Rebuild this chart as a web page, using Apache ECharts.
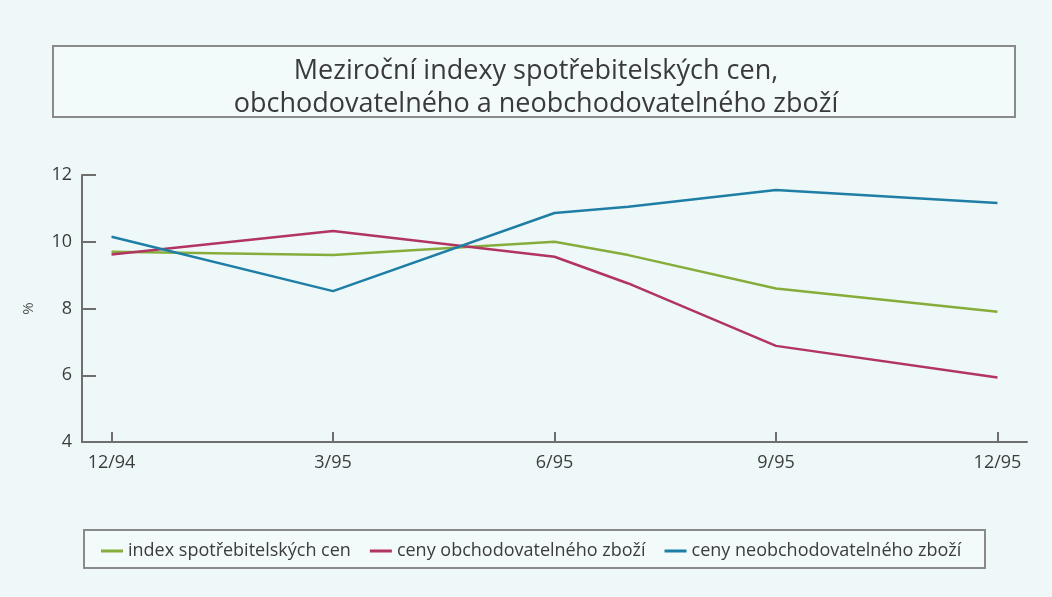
<!DOCTYPE html>
<html>
<head>
<meta charset="utf-8">
<script src="https://cdn.jsdelivr.net/npm/echarts@6/dist/echarts.min.js"></script>
<style>
  html, body { margin: 0; padding: 0; background: #eef8f8; }
  #chart { width: 1052px; height: 597px; }
</style>
</head>
<body>
<div id="chart"></div>
<script>
// měsíce od 12/94 (0) do 12/95 (12)
var months = [0, 3, 6, 7, 9, 12];
var tickMonths = [0, 3, 6, 9, 12];
var tickLabels = ['12/94', '3/95', '6/95', '9/95', '12/95'];

var seriesNames = ['index spotřebitelských cen', 'ceny obchodovatelného zboží', 'ceny neobchodovatelného zboží'];
var cpi = [9.7, 9.6, 10.0, 9.6, 8.6, 7.9];
var tradable = [9.62, 10.32, 9.55, 8.75, 6.88, 5.93];
var nonTradable = [10.15, 8.52, 10.86, 11.05, 11.55, 11.16];

var colors = ['#86ad3c', '#b23463', '#1f7ea6'];
var font = 'Open Sans';

function pairs(vals) {
  var rs = [];
  for (var i = 0; i < months.length; i++) {
    rs.push([months[i], vals[i]]);
  }
  return rs;
}

var myChart = echarts.init(document.getElementById('chart'));

var option = {
  backgroundColor: '#eef8f8',
  color: colors,
  textStyle: { fontFamily: font, color: '#3c3c3c' },
  title: {
    text: 'Meziroční indexy spotřebitelských cen,\nobchodovatelného a neobchodovatelného zboží',
    left: 531,
    top: 50,
    textAlign: 'center',
    textStyle: { fontFamily: font, fontSize: 27, fontWeight: 'normal', color: '#3a3a3a', lineHeight: 33 }
  },
  graphic: [
    { type: 'rect', shape: { x: 53, y: 46, width: 962, height: 71 },
      style: { fill: '#f2fafa', stroke: '#8a8a8a', lineWidth: 2 }, z: -1 },
    { type: 'rect', shape: { x: 84, y: 530, width: 901, height: 38 },
      style: { fill: '#f2fafa', stroke: '#8a8a8a', lineWidth: 2 }, z: -1 }
  ],
  legend: {
    left: 96,
    top: 537,
    icon: 'rect',
    itemWidth: 22,
    itemHeight: 3,
    itemGap: 19,
    data: seriesNames,
    textStyle: { fontFamily: font, fontSize: 18, color: '#3c3c3c' }
  },
  grid: { left: 82, right: 25, top: 175, bottom: 155 },
  xAxis: {
    type: 'value',
    min: -0.4,
    max: 12.4,
    axisLine: { onZero: false, lineStyle: { color: '#6e6e6e', width: 2 } },
    axisTick: { inside: true, length: 10, customValues: tickMonths, lineStyle: { color: '#6e6e6e', width: 2 } },
    axisLabel: {
      customValues: tickMonths,
      margin: 12,
      fontSize: 18,
      color: '#3c3c3c',
      formatter: function (v) { return tickLabels[tickMonths.indexOf(v)]; }
    },
    splitLine: { show: false }
  },
  yAxis: {
    type: 'value',
    min: 4,
    max: 12,
    interval: 2,
    name: '%',
    nameLocation: 'middle',
    nameRotate: 90,
    nameGap: 46,
    nameTextStyle: { fontSize: 15, color: '#555' },
    axisLine: { show: true, onZero: false, lineStyle: { color: '#6e6e6e', width: 2 } },
    axisTick: { show: true, inside: true, length: 14, lineStyle: { color: '#6e6e6e', width: 2 } },
    axisLabel: { margin: 10, fontSize: 18, color: '#3c3c3c' },
    splitLine: { show: false }
  },
  series: [
    { name: seriesNames[0], type: 'line', data: pairs(cpi), symbol: 'none', lineStyle: { width: 2.5 } },
    { name: seriesNames[1], type: 'line', data: pairs(tradable), symbol: 'none', lineStyle: { width: 2.5 } },
    { name: seriesNames[2], type: 'line', data: pairs(nonTradable), symbol: 'none', lineStyle: { width: 2.5 } }
  ]
};

myChart.setOption(option);
</script>
</body>
</html>
